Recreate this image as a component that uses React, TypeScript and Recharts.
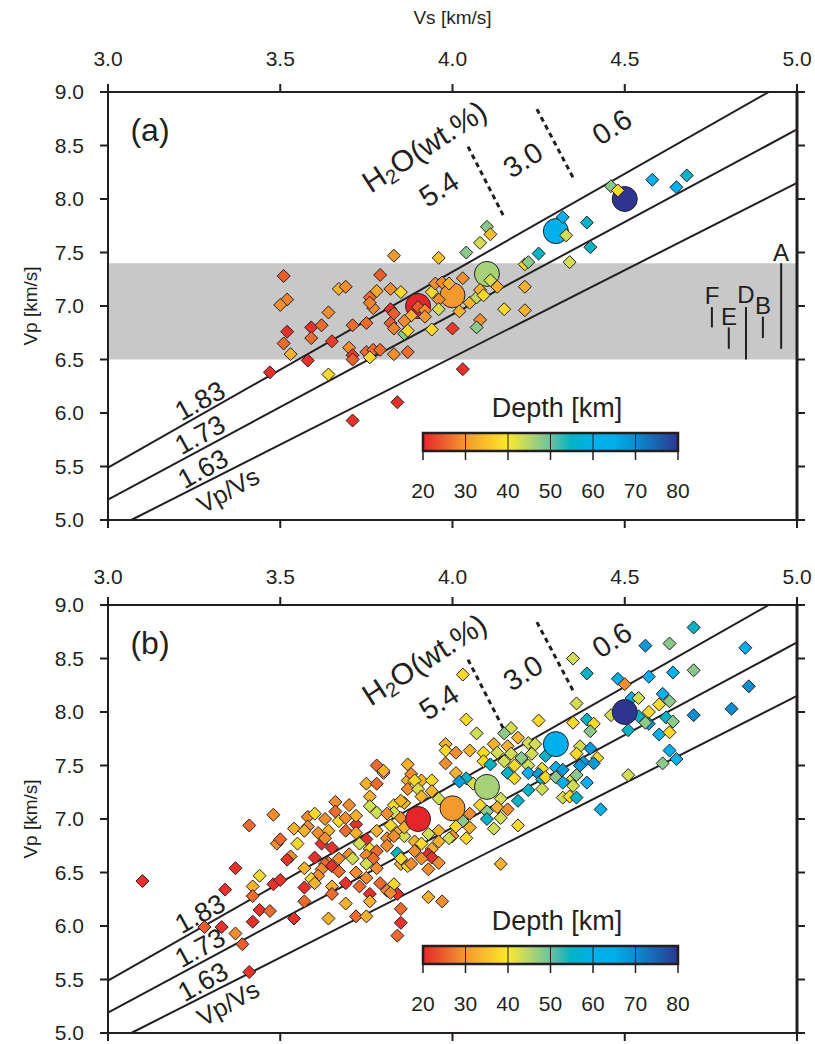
import React from 'react'
import { ReferenceArea, ReferenceLine, Scatter, ScatterChart, XAxis, YAxis } from 'recharts'

// [Vs km/s, Vp km/s, depth km]
type Pt = [number, number, number]

const panelAPoints: Pt[] = [
  [3.83, 7.47, 30], [3.96, 7.45, 35], [4.04, 7.5, 48], [4.08, 7.59, 43], [4.25, 7.49, 55],
  [4.21, 7.39, 38], [3.51, 7.28, 25], [3.79, 7.29, 25], [3.67, 7.16, 33], [3.69, 7.18, 29],
  [3.78, 7.14, 32], [3.82, 7.16, 29], [3.85, 7.13, 38], [3.76, 7.08, 26], [3.77, 6.98, 29],
  [3.76, 7.03, 28], [3.52, 7.06, 28], [3.5, 7.01, 29], [3.64, 6.94, 29], [3.82, 6.97, 21],
  [3.83, 6.93, 25], [3.9, 6.99, 25], [3.88, 6.91, 33], [3.92, 6.96, 29], [3.92, 6.9, 30],
  [3.86, 6.86, 29], [3.82, 6.84, 25], [3.83, 6.79, 28], [3.86, 6.74, 48], [3.87, 6.77, 38],
  [3.94, 6.78, 38], [3.75, 6.84, 26], [3.71, 6.82, 26], [3.59, 6.8, 21], [3.62, 6.82, 26],
  [3.52, 6.76, 21], [3.59, 6.7, 26], [3.51, 6.65, 26], [3.65, 6.67, 22], [3.53, 6.55, 33],
  [3.58, 6.49, 21], [3.7, 6.61, 29], [3.71, 6.54, 22], [3.71, 6.5, 25], [3.75, 6.57, 26],
  [3.77, 6.59, 26], [3.79, 6.59, 26], [3.76, 6.52, 38], [3.83, 6.55, 29], [3.87, 6.57, 26],
  [3.47, 6.38, 21], [3.64, 6.36, 38], [3.84, 6.1, 21], [3.71, 5.93, 21], [3.94, 7.13, 38],
  [3.95, 7.21, 29], [3.97, 7.22, 29], [3.99, 7.21, 33], [4.03, 7.26, 29], [3.96, 7.06, 29],
  [3.96, 6.97, 43], [4.02, 6.95, 33], [4.05, 7.03, 33], [4.07, 7.08, 44], [4.08, 7.15, 33],
  [4.09, 7.1, 38], [4.11, 7.24, 43], [4.13, 7.18, 33], [4.21, 7.18, 33], [4.15, 6.97, 38],
  [4.21, 6.96, 33], [4.08, 6.87, 29], [4.07, 6.8, 48], [4.0, 6.79, 22], [4.03, 6.41, 21],
  [4.1, 7.74, 48], [4.11, 7.67, 35], [4.32, 7.83, 62], [4.33, 7.66, 43], [4.39, 7.78, 55],
  [4.4, 7.55, 55], [4.34, 7.41, 43], [4.46, 8.12, 48], [4.48, 8.08, 38], [4.58, 8.18, 62],
  [4.65, 8.11, 62], [4.68, 8.22, 55], [4.22, 7.41, 48],
]

const panelBPoints: Pt[] = [
  [3.1, 6.42, 21], [3.37, 6.54, 21], [3.34, 6.34, 21], [3.33, 5.99, 21], [3.28, 5.99, 25],
  [3.37, 5.93, 29], [3.39, 5.83, 25], [3.41, 5.57, 21], [3.42, 6.04, 21],
  [3.78, 7.5, 26], [3.8, 7.43, 33], [3.75, 7.33, 33], [3.78, 7.33, 26], [3.76, 7.21, 33],
  [3.87, 7.51, 33], [3.87, 7.36, 33], [3.66, 7.16, 29], [3.7, 7.13, 29], [3.48, 7.04, 29],
  [3.41, 6.94, 26], [3.76, 7.12, 43], [3.78, 7.06, 43], [3.83, 7.13, 38], [3.83, 7.06, 43],
  [3.86, 7.15, 33], [3.66, 7.07, 26], [3.63, 7.0, 29], [3.58, 7.02, 29], [3.6, 7.05, 38],
  [3.67, 6.98, 38], [3.69, 7.01, 29], [3.72, 6.95, 21], [3.72, 7.03, 33], [3.54, 6.91, 33],
  [3.58, 6.93, 29], [3.57, 6.89, 33], [3.61, 6.87, 29], [3.64, 6.89, 33], [3.69, 6.89, 26],
  [3.72, 6.87, 33], [3.75, 6.81, 21], [3.78, 6.89, 33], [3.82, 6.94, 38], [3.84, 6.87, 33],
  [3.86, 6.84, 43], [3.81, 6.82, 29], [3.49, 6.77, 29], [3.5, 6.81, 26], [3.55, 6.77, 38],
  [3.62, 6.77, 21], [3.63, 6.82, 29], [3.65, 6.73, 21], [3.73, 6.77, 43], [3.76, 6.72, 38],
  [3.81, 6.75, 29], [3.78, 6.7, 26], [3.53, 6.65, 29], [3.52, 6.62, 21], [3.6, 6.64, 21],
  [3.64, 6.59, 29], [3.67, 6.63, 29], [3.7, 6.67, 29], [3.71, 6.63, 43], [3.75, 6.66, 29],
  [3.77, 6.63, 26], [3.84, 6.68, 55], [3.85, 6.58, 33], [3.87, 6.56, 38], [3.57, 6.54, 33],
  [3.63, 6.58, 26], [3.62, 6.53, 29], [3.65, 6.56, 21], [3.67, 6.51, 26], [3.72, 6.5, 29],
  [3.75, 6.58, 43], [3.78, 6.54, 29], [3.44, 6.47, 38], [3.61, 6.47, 29], [3.59, 6.44, 38],
  [3.6, 6.4, 33], [3.69, 6.4, 21], [3.73, 6.37, 26], [3.75, 6.45, 29], [3.79, 6.4, 26],
  [3.81, 6.33, 29], [3.83, 6.39, 38], [3.84, 6.3, 21], [3.48, 6.39, 21], [3.5, 6.43, 21],
  [3.42, 6.37, 33], [3.42, 6.28, 26], [3.57, 6.36, 21], [3.65, 6.37, 33], [3.57, 6.23, 26],
  [3.65, 6.3, 26], [3.76, 6.3, 21], [3.76, 6.23, 33], [3.82, 6.31, 29], [3.85, 6.16, 26],
  [3.44, 6.15, 21], [3.47, 6.14, 26], [3.69, 6.21, 33], [3.72, 6.09, 26], [3.75, 6.09, 33],
  [3.54, 6.07, 21], [3.64, 6.07, 33], [3.85, 6.03, 21], [3.84, 5.91, 26], [3.93, 6.27, 33],
  [3.97, 6.23, 29],
  [4.04, 7.93, 38], [4.07, 7.8, 43], [4.17, 7.85, 43], [4.15, 7.8, 48], [4.25, 7.92, 38],
  [4.19, 7.76, 33], [4.22, 7.71, 43], [4.24, 7.7, 43], [3.98, 7.7, 33], [3.98, 7.64, 38],
  [4.01, 7.62, 29], [4.05, 7.64, 33], [4.09, 7.62, 38], [4.12, 7.7, 33], [4.13, 7.62, 43],
  [4.16, 7.68, 33], [4.17, 7.61, 43], [4.2, 7.57, 48], [4.23, 7.61, 43], [4.27, 7.59, 55],
  [3.98, 7.52, 29], [4.09, 7.54, 38], [4.11, 7.51, 55], [4.15, 7.54, 43], [4.18, 7.5, 38],
  [4.22, 7.5, 43], [4.26, 7.47, 38], [3.8, 7.45, 33], [3.88, 7.42, 29], [3.91, 7.36, 33],
  [3.94, 7.36, 38], [4.01, 7.43, 33], [4.04, 7.38, 55], [4.02, 7.35, 68], [4.06, 7.33, 43],
  [4.16, 7.43, 55], [4.18, 7.38, 38], [4.22, 7.43, 62], [4.25, 7.42, 68], [4.26, 7.37, 55],
  [4.22, 7.27, 55], [4.26, 7.28, 43], [4.19, 7.17, 55], [4.14, 7.19, 43], [4.13, 7.11, 33],
  [4.16, 7.09, 29], [4.08, 7.13, 38], [4.1, 7.07, 48], [4.1, 7.0, 55], [4.14, 7.01, 43],
  [4.12, 6.91, 43], [4.19, 6.94, 38], [4.05, 7.05, 29], [4.03, 6.98, 48], [4.05, 6.92, 33],
  [4.01, 6.93, 38], [4.0, 6.84, 29], [4.04, 6.82, 38], [3.99, 6.82, 43], [3.96, 6.89, 33],
  [3.89, 7.36, 38], [3.87, 7.28, 29], [3.9, 7.28, 43], [3.94, 7.26, 33], [3.91, 7.21, 33],
  [3.96, 7.19, 43], [3.85, 7.17, 33], [3.81, 7.05, 29], [3.85, 7.01, 29], [3.86, 6.92, 33],
  [3.83, 6.84, 29], [3.89, 6.79, 33], [3.91, 6.77, 38], [3.93, 6.86, 43], [3.96, 6.79, 33],
  [3.94, 6.72, 33], [3.89, 6.7, 29], [3.93, 6.67, 21], [3.94, 6.64, 21], [3.91, 6.63, 29],
  [3.96, 6.59, 29], [3.88, 6.58, 29], [3.93, 6.53, 29], [3.85, 6.63, 38], [4.14, 6.58, 33],
  [4.56, 8.62, 68], [4.63, 8.64, 48], [4.85, 8.6, 62], [4.7, 8.79, 55], [4.35, 8.5, 43],
  [4.39, 8.36, 55], [4.03, 8.35, 38], [4.48, 8.31, 62], [4.5, 8.26, 29], [4.57, 8.33, 62],
  [4.64, 8.37, 62], [4.7, 8.39, 48], [4.86, 8.24, 70], [4.36, 8.08, 43], [4.52, 8.13, 62],
  [4.54, 8.13, 43], [4.61, 8.17, 62], [4.6, 8.07, 38], [4.63, 8.1, 48], [4.46, 7.97, 43],
  [4.57, 8.0, 38], [4.54, 7.96, 55], [4.7, 7.97, 70], [4.81, 8.03, 70], [4.62, 7.95, 55],
  [4.64, 7.91, 48], [4.57, 7.89, 68], [4.56, 7.9, 48], [4.51, 7.83, 55], [4.6, 7.79, 62],
  [4.63, 7.81, 38], [4.35, 7.9, 38], [4.39, 7.93, 55], [4.41, 7.89, 38], [4.4, 7.82, 48],
  [4.63, 7.64, 62], [4.65, 7.56, 62], [4.61, 7.52, 48], [4.37, 7.68, 43], [4.4, 7.66, 68],
  [4.36, 7.61, 38], [4.42, 7.57, 38], [4.38, 7.53, 68], [4.41, 7.52, 68], [4.37, 7.5, 68],
  [4.3, 7.48, 62], [4.32, 7.46, 68], [4.27, 7.39, 38], [4.3, 7.39, 48], [4.35, 7.38, 43],
  [4.36, 7.41, 48], [4.32, 7.34, 62], [4.35, 7.31, 43], [4.39, 7.34, 62], [4.51, 7.41, 43],
  [4.32, 7.2, 43], [4.34, 7.21, 38], [4.36, 7.2, 55], [4.43, 7.09, 62],
]

// large circles: reference values at each depth
const modelPoints: Pt[] = [
  [3.9, 7.0, 20], [4.0, 7.1, 30], [4.1, 7.3, 46], [4.3, 7.7, 60], [4.5, 8.0, 80],
]

const vpVsRatios = [1.83, 1.73, 1.63]
const ratioLabels = ['1.83', '1.73', '1.63']
const h2oBoundaries = [
  [[4.045, 8.49], [4.15, 7.83]],
  [[4.245, 8.84], [4.35, 8.2]],
]
const h2oLabels = ['5.4', '3.0', '0.6']
const crustBand = [6.5, 7.4]
const rockRanges = [
  { name: 'A', vs: 4.954, min: 6.6, max: 7.4 },
  { name: 'B', vs: 4.901, min: 6.7, max: 6.9 },
  { name: 'D', vs: 4.852, min: 6.5, max: 6.99 },
  { name: 'E', vs: 4.802, min: 6.6, max: 6.8 },
  { name: 'F', vs: 4.753, min: 6.8, max: 6.99 },
]

const vsTicks = [3, 3.5, 4, 4.5, 5]
const vpTicks = [5, 5.5, 6, 6.5, 7, 7.5, 8, 8.5, 9]
const depthTicks = [20, 30, 40, 50, 60, 70, 80]
const depthStops = [20, 25, 30, 35, 40, 45, 50, 55, 60, 65, 70, 75, 80]
const depthStopColors = [
  '#e6252b', '#ec5f2c', '#f39a2f', '#f8c12b', '#fbe92b', '#b5d56e', '#6dc19f',
  '#00b3c4', '#00b0ec', '#00aee9', '#0a8dd1', '#1a64b0', '#2e3590',
]

const INK = '#231f20'
const FONT = '"Liberation Sans", Arial, Helvetica, sans-serif'

function hex(c: string) {
  return [1, 3, 5].map((i) => parseInt(c.slice(i, i + 2), 16))
}

function depthColor(d: number) {
  if (d <= depthStops[0]) return depthStopColors[0]
  for (let i = 1; i < depthStops.length; i++) {
    if (d <= depthStops[i]) {
      const t = (d - depthStops[i - 1]) / (depthStops[i] - depthStops[i - 1])
      const a = hex(depthStopColors[i - 1])
      const b = hex(depthStopColors[i])
      const m = a.map((v, k) => Math.round(v + (b[k] - v) * t))
      return `rgb(${m[0]},${m[1]},${m[2]})`
    }
  }
  return depthStopColors[depthStopColors.length - 1]
}

const toRows = (pts: Pt[]) => pts.map(([vs, vp, depth]) => ({ vs, vp, depth }))

const Diamond = (props: any) => {
  const { cx, cy, payload } = props
  const r = 6.5
  return (
    <polygon
      points={`${cx},${cy - r} ${cx + r},${cy} ${cx},${cy + r} ${cx - r},${cy}`}
      fill={depthColor(payload.depth)}
      stroke={INK}
      strokeWidth={1}
    />
  )
}

const BigDot = (props: any) => {
  const { cx, cy, payload } = props
  return <circle cx={cx} cy={cy} r={12.5} fill={depthColor(payload.depth)} stroke={INK} strokeWidth={1} />
}

const axisLine = { stroke: INK, strokeWidth: 2 }
const tickFont = { fontSize: 21, fill: INK, fontFamily: FONT }

function Overlay({ tag, height, rocks }: { tag: string; height: number; rocks: boolean }) {
  const cbX0 = 423
  const cbX1 = 678
  const cbY = 433
  const cbH = 18
  const dx = (d: number) => cbX0 + ((d - 20) / 60) * (cbX1 - cbX0)
  const txt = { fill: INK, fontFamily: FONT }
  const rot = (x: number, y: number, a: number) => `rotate(${a} ${x} ${y})`
  return (
    <svg width={815} height={height} style={{ position: 'absolute', left: 0, top: 0, pointerEvents: 'none' }}>
      <defs>
        <linearGradient id={`cb-${tag}`} x1="0" x2="1" y1="0" y2="0">
          {depthStops.map((d, i) => (
            <stop key={d} offset={(d - 20) / 60} stopColor={depthStopColors[i]} />
          ))}
        </linearGradient>
      </defs>
      <text x={150} y={130} fontSize={32} textAnchor="middle" dominantBaseline="central" {...txt}>
        ({tag})
      </text>
      <text x={30} y={306} fontSize={19} textAnchor="middle" dominantBaseline="central" transform={rot(30, 306, -90)} {...txt}>
        Vp [km/s]
      </text>
      <text x={424} y={146} fontSize={30} textAnchor="middle" dominantBaseline="central" transform={rot(424, 146, -33)} {...txt}>
        <tspan>H</tspan>
        <tspan fontSize={20} dy={8}>2</tspan>
        <tspan dy={-8}>O(wt.%)</tspan>
      </text>
      {[[439, 189], [523, 160], [612, 127]].map(([x, y], i) => (
        <text key={i} x={x} y={y} fontSize={29} textAnchor="middle" dominantBaseline="central" transform={rot(x, y, -33)} {...txt}>
          {h2oLabels[i]}
        </text>
      ))}
      {[[200, 401], [200, 435], [203, 469]].map(([x, y], i) => (
        <text key={i} x={x} y={y} fontSize={27} textAnchor="middle" dominantBaseline="central" transform={rot(x, y, -29)} {...txt}>
          {ratioLabels[i]}
        </text>
      ))}
      <text x={228} y={490} fontSize={25} textAnchor="middle" dominantBaseline="central" transform={rot(228, 490, -29)} {...txt}>
        Vp/Vs
      </text>
      {rocks &&
        [[781, 252], [763, 305], [746, 294], [729, 316], [712, 295]].map(([x, y], i) => (
          <text key={i} x={x} y={y} fontSize={24} textAnchor="middle" dominantBaseline="central" {...txt}>
            {rockRanges[i].name}
          </text>
        ))}
      <text x={557} y={408} fontSize={27} textAnchor="middle" dominantBaseline="central" {...txt}>
        Depth [km]
      </text>
      <rect x={cbX0} y={cbY} width={cbX1 - cbX0} height={cbH} fill={`url(#cb-${tag})`} />
      {depthTicks.slice(1, -1).map((d) => (
        <line key={d} x1={dx(d)} x2={dx(d)} y1={cbY} y2={cbY + cbH} stroke={INK} strokeWidth={1} />
      ))}
      <rect x={cbX0} y={cbY} width={cbX1 - cbX0} height={cbH} fill="none" stroke={INK} strokeWidth={2.5} />
      {depthTicks.map((d) => (
        <g key={d}>
          <line x1={dx(d)} x2={dx(d)} y1={cbY + cbH} y2={cbY + cbH + 9} stroke={INK} strokeWidth={1.5} />
          <text x={dx(d)} y={490} fontSize={21} textAnchor="middle" dominantBaseline="central" {...txt}>
            {d}
          </text>
        </g>
      ))}
    </svg>
  )
}

function Panel({ tag, pts, height, bottomH, band, topGap }: {
  tag: string; pts: Pt[]; height: number; bottomH: number; band: boolean; topGap: number
}) {
  const ids = { xAxisId: 't', yAxisId: 'l' }
  const circles = (
    <Scatter {...ids} data={toRows(modelPoints)} shape={BigDot} isAnimationActive={false} />
  )
  return (
    <div style={{ position: 'relative', width: 815, height }}>
      <ScatterChart width={815} height={height} margin={{ top: 0, right: 0, bottom: 0, left: 0 }}>
        <XAxis xAxisId="t" orientation="top" type="number" dataKey="vs" domain={[3, 5]} ticks={vsTicks} interval={0}
          height={92} tickSize={8} tickMargin={topGap} tickFormatter={(v: number) => v.toFixed(1)} tick={tickFont}
          axisLine={axisLine} tickLine={axisLine} allowDataOverflow />
        <XAxis xAxisId="b" orientation="bottom" type="number" dataKey="vs" domain={[3, 5]} ticks={vsTicks} interval={0}
          height={bottomH} tickSize={8} tickFormatter={() => ''} axisLine={axisLine} tickLine={axisLine} allowDataOverflow />
        <YAxis yAxisId="l" type="number" dataKey="vp" domain={[5, 9]} ticks={vpTicks} interval={0} width={108}
          tickSize={8} tickMargin={16} tickFormatter={(v: number) => v.toFixed(1)} tick={tickFont}
          axisLine={axisLine} tickLine={axisLine} allowDataOverflow />
        <YAxis yAxisId="r" orientation="right" type="number" dataKey="vp" domain={[5, 9]} ticks={vpTicks} interval={0}
          width={18} tickSize={8} tickFormatter={() => ''} axisLine={{ stroke: INK, strokeWidth: 3 }} tickLine={axisLine}
          allowDataOverflow />
        {band && (
          <ReferenceArea {...ids} x1={3} x2={5} y1={crustBand[0]} y2={crustBand[1]} fill="#c8c8c8" fillOpacity={1} stroke="none" />
        )}
        {vpVsRatios.map((r) => {
          const a = Math.max(3, 5 / r)
          const b = Math.min(5, 9 / r)
          return (
            <ReferenceLine key={r} {...ids} ifOverflow="visible" stroke={INK} strokeWidth={2}
              segment={[{ x: a, y: a * r }, { x: b, y: b * r }]} />
          )
        })}
        {h2oBoundaries.map((s, i) => (
          <ReferenceLine key={i} {...ids} ifOverflow="visible" stroke={INK} strokeWidth={3} strokeDasharray="5 4"
            segment={[{ x: s[0][0], y: s[0][1] }, { x: s[1][0], y: s[1][1] }]} />
        ))}
        {band &&
          rockRanges.map((rk) => (
            <ReferenceLine key={rk.name} {...ids} ifOverflow="visible" stroke={INK} strokeWidth={2}
              segment={[{ x: rk.vs, y: rk.min }, { x: rk.vs, y: rk.max }]} />
          ))}
        {band && circles}
        <Scatter {...ids} data={toRows(pts)} shape={Diamond} isAnimationActive={false} />
        {!band && circles}
      </ScatterChart>
      <Overlay tag={tag} height={height} rocks={band} />
    </div>
  )
}

export default function App() {
  return (
    <div style={{ position: 'absolute', left: 0, top: 0, width: 815, height: 1044, background: '#fff', overflow: 'hidden' }}>
      <div style={{ position: 'absolute', left: 0, top: 0 }}>
        <Panel tag="a" pts={panelAPoints} height={540} bottomH={20} band topGap={18} />
      </div>
      <div style={{ position: 'absolute', left: 0, top: 513 }}>
        <Panel tag="b" pts={panelBPoints} height={531} bottomH={11} band={false} topGap={13} />
      </div>
      <div style={{ position: 'absolute', left: 0, top: 8, width: 815, textAlign: 'center', paddingLeft: 90, boxSizing: 'border-box',
        fontFamily: FONT, fontSize: 19, color: INK, lineHeight: '20px' }}>
        Vs [km/s]
      </div>
    </div>
  )
}
